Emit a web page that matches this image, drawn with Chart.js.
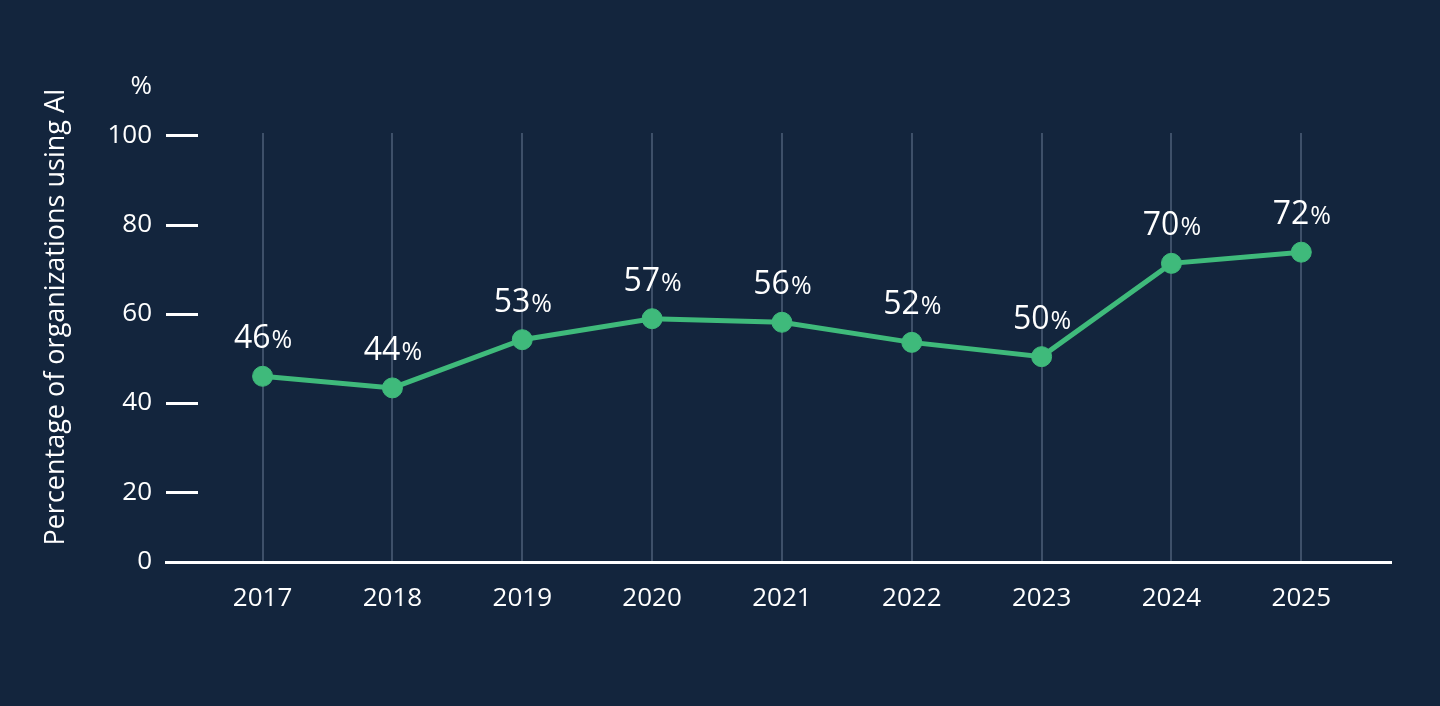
<!DOCTYPE html>
<html>
<head>
<meta charset="utf-8">
<script src="https://cdn.jsdelivr.net/npm/chart.js@4"></script>
<style>
  html, body { margin: 0; padding: 0; background: #13253d; }
  #wrap { width: 1440px; height: 706px; }
</style>
</head>
<body>
<div id="wrap"><canvas id="chart" width="1440" height="706"></canvas></div>
<script>
const years = [2017, 2018, 2019, 2020, 2021, 2022, 2023, 2024, 2025];
// point heights as plotted in the picture
const values = [46.0, 43.4, 54.2, 58.9, 58.1, 53.6, 50.4, 71.3, 73.8];
// labels printed above the points
const labels = [46, 44, 53, 57, 56, 52, 50, 70, 72];
const yTicks = [20, 40, 60, 80, 100];
const yBottom = 4.4;   // the axis line is drawn a bit above true zero, labelled "0"

const FONT = "'Open Sans', sans-serif";
const WHITE = "#ffffff";
const GREEN = "#3fba7b";

const extras = {
  id: "extras",
  afterDraw(chart) {
    const ctx = chart.ctx;
    const area = chart.chartArea;
    const y = chart.scales.y;

    ctx.save();
    // short dashes next to the y labels
    ctx.strokeStyle = WHITE;
    ctx.lineWidth = 3;
    yTicks.forEach(v => {
      const py = Math.round(y.getPixelForValue(v)) + 0.5;
      ctx.beginPath();
      ctx.moveTo(area.left, py);
      ctx.lineTo(area.left + 32, py);
      ctx.stroke();
    });

    // "%" unit above the axis
    ctx.fillStyle = WHITE;
    ctx.font = "26px " + FONT;
    ctx.textAlign = "right";
    ctx.textBaseline = "middle";
    ctx.fillText("%", 152, 87);

    // axis title
    ctx.save();
    ctx.translate(56, 317);
    ctx.rotate(-Math.PI / 2);
    ctx.font = "27px " + FONT;
    ctx.textAlign = "center";
    ctx.textBaseline = "middle";
    ctx.fillText("Percentage of organizations using AI", 0, 0);
    ctx.restore();

    // value labels
    const meta = chart.getDatasetMeta(0);
    meta.data.forEach((pt, i) => {
      const num = String(labels[i]);
      ctx.font = "32px " + FONT;
      const w1 = ctx.measureText(num).width;
      ctx.font = "25px " + FONT;
      const w2 = ctx.measureText("%").width;
      const x0 = pt.x - (w1 + w2) / 2;
      const by = pt.y - 28;
      ctx.textAlign = "left";
      ctx.textBaseline = "alphabetic";
      ctx.font = "32px " + FONT;
      ctx.fillText(num, x0, by);
      ctx.font = "25px " + FONT;
      ctx.fillText("%", x0 + w1 + 1, by);
    });
    ctx.restore();
  }
};

new Chart(document.getElementById("chart"), {
  type: "line",
  data: {
    datasets: [{
      data: years.map((yr, i) => ({ x: yr, y: values[i] })),
      borderColor: GREEN,
      backgroundColor: GREEN,
      borderWidth: 5,
      pointRadius: 10,
      pointBorderWidth: 1,
      pointBorderColor: GREEN,
      pointBackgroundColor: GREEN,
      tension: 0
    }]
  },
  options: {
    responsive: false,
    animation: false,
    layout: { padding: { top: 133, right: 49, bottom: 0, left: 0 } },
    plugins: { legend: { display: false }, tooltip: { enabled: false } },
    scales: {
      x: {
        type: "linear",
        min: 2016.256,
        max: 2025.691,
        afterBuildTicks: s => { s.ticks = years.map(v => ({ value: v })); },
        afterFit: s => { s.height = 144; },
        ticks: {
          color: WHITE,
          font: { size: 26, family: FONT },
          padding: 21,
          callback: v => String(v)
        },
        grid: { color: "#3e5069", lineWidth: 2, drawTicks: false },
        border: { display: true, color: WHITE, width: 3 }
      },
      y: {
        min: yBottom,
        max: 100.5,
        afterBuildTicks: s => { s.ticks = [yBottom].concat(yTicks).map(v => ({ value: v })); },
        afterFit: s => { s.width = 166; },
        ticks: {
          color: WHITE,
          font: { size: 26, family: FONT },
          padding: 14,
          callback: v => (v === yBottom ? "0" : String(v))
        },
        grid: { display: false, drawTicks: false },
        border: { display: false }
      }
    }
  },
  plugins: [extras]
});
</script>
</body>
</html>
